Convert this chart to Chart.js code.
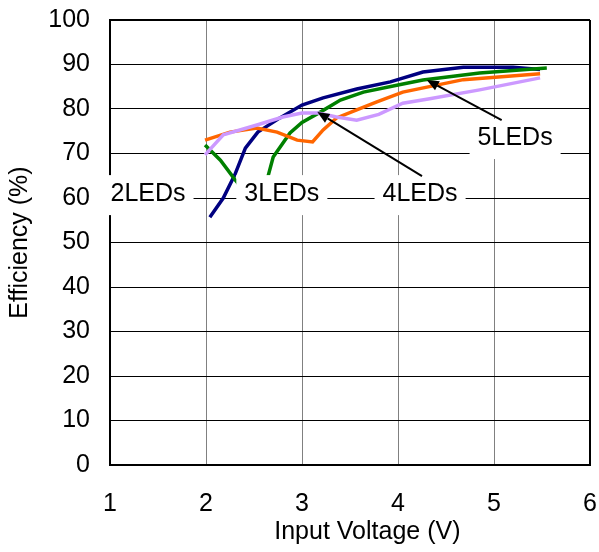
<!DOCTYPE html>
<html lang="en">
<head>
<meta charset="UTF-8">
<title>Efficiency vs Input Voltage</title>
<script src="https://cdn.jsdelivr.net/npm/chart.js"></script>
<style>
  html, body { margin: 0; padding: 0; background: #fff; }
  #wrap { width: 599px; height: 552px; }
</style>
</head>
<body>
<div id="wrap"><canvas id="effChart" width="599" height="552"></canvas></div>
<script>
// curve data: input voltage (V) and efficiency (%)
const navyV    = [2.04, 2.18, 2.30, 2.41, 2.54, 2.77, 3.00, 3.22, 3.57, 3.92, 4.26, 4.68, 5.20, 5.48];
const navyEff  = [55.7, 60.0, 65.2, 71.2, 74.8, 78.0, 80.9, 82.5, 84.5, 86.1, 88.3, 89.4, 89.4, 88.9];

const greenV   = [1.99, 2.15, 2.30, 2.42, 2.60, 2.65, 2.70, 2.875, 3.00, 3.19, 3.40, 3.64, 4.00, 4.26, 4.85, 5.55];
const greenEff = [71.9, 68.5, 64.2, 61.0, 61.0, 65.2, 69.2, 74.6, 77.0, 79.3, 82.0, 83.8, 85.4, 86.5, 88.1, 89.2];

const orangeV   = [1.99, 2.25, 2.53, 2.74, 2.95, 3.11, 3.22, 3.36, 3.57, 3.78, 4.05, 4.68, 5.48];
const orangeEff = [73.0, 74.8, 75.7, 74.8, 73.0, 72.6, 75.3, 78.0, 79.8, 81.6, 83.8, 86.6, 87.9];

const lilacV   = [1.99, 2.18, 2.53, 2.80, 3.00, 3.17, 3.36, 3.57, 3.80, 4.05, 4.33, 4.85, 5.48];
const lilacEff = [69.7, 74.2, 76.4, 78.2, 79.1, 79.1, 78.2, 77.5, 78.8, 81.3, 82.3, 84.3, 87.0];

const xTicks = [1, 2, 3, 4, 5, 6];
const yTicks = [0, 10, 20, 30, 40, 50, 60, 70, 80, 90, 100];

// text labels (centre, in data units) and arrows (tail -> tip)
const labelText = ['2LEDs', '3LEDs', '4LEDs', '5LEDs'];
const labelV    = [1.396, 2.79, 4.23, 5.22];
const labelEff  = [61.1, 61.1, 61.1, 73.7];
const arrowFrom = [[4.25, 64.9], [5.08, 77.5]];
const arrowTo   = [[3.16, 79.3], [4.30, 86.5]];

const FONT = 'Liberation Sans, Arial, sans-serif';

function pts(xs, ys) {
    return xs.map((v, i) => ({ x: v, y: ys[i] }));
}

function curve(xs, ys, color) {
    return {
        data: pts(xs, ys),
        borderColor: color,
        borderWidth: 3.5,
        pointRadius: 0,
        tension: 0,
        fill: false
    };
}

const labelsPlugin = {
    id: 'ledLabels',
    afterDraw(chart) {
        const ctx = chart.ctx;
        const xs = chart.scales.x, ys = chart.scales.y;
        ctx.save();
        ctx.font = '25px ' + FONT;
        ctx.textAlign = 'center';
        ctx.textBaseline = 'middle';
        labelText.forEach((t, i) => {
            const px = xs.getPixelForValue(labelV[i]);
            const py = ys.getPixelForValue(labelEff[i]);
            const w = ctx.measureText(t).width;
            ctx.fillStyle = '#fff';
            ctx.fillRect(px - w / 2 - 8, py - 18, w + 16, 40);
            ctx.fillStyle = '#000';
            ctx.fillText(t, px, py + 1);
        });
        // arrows
        ctx.strokeStyle = '#000';
        ctx.fillStyle = '#000';
        ctx.lineWidth = 2;
        arrowFrom.forEach((a, i) => {
            const x0 = xs.getPixelForValue(a[0]), y0 = ys.getPixelForValue(a[1]);
            const x1 = xs.getPixelForValue(arrowTo[i][0]), y1 = ys.getPixelForValue(arrowTo[i][1]);
            const ang = Math.atan2(y1 - y0, x1 - x0);
            const hl = 12, hw = 5;
            ctx.beginPath();
            ctx.moveTo(x0, y0);
            ctx.lineTo(x1 - hl * Math.cos(ang), y1 - hl * Math.sin(ang));
            ctx.stroke();
            ctx.beginPath();
            ctx.moveTo(x1, y1);
            ctx.lineTo(x1 - hl * Math.cos(ang) + hw * Math.sin(ang), y1 - hl * Math.sin(ang) - hw * Math.cos(ang));
            ctx.lineTo(x1 - hl * Math.cos(ang) - hw * Math.sin(ang), y1 - hl * Math.sin(ang) + hw * Math.cos(ang));
            ctx.closePath();
            ctx.fill();
        });
        ctx.restore();
    }
};

Chart.defaults.font.family = FONT;
Chart.defaults.font.size = 25;
Chart.defaults.color = '#000';

new Chart(document.getElementById('effChart'), {
    type: 'line',
    data: {
        datasets: [
            curve(lilacV, lilacEff, '#CC99FF'),
            curve(orangeV, orangeEff, '#FF6600'),
            curve(greenV, greenEff, '#008000'),
            curve(navyV, navyEff, '#000080')
        ]
    },
    options: {
        responsive: false,
        animation: false,
        layout: { padding: { left: 5, right: 9, top: 20, bottom: 5 } },
        plugins: {
            legend: { display: false },
            tooltip: { enabled: false }
        },
        scales: {
            x: {
                type: 'linear',
                min: 1,
                max: 6,
                afterBuildTicks: s => { s.ticks = xTicks.map(v => ({ value: v })); },
                afterFit: s => { s.height = 82; s.paddingLeft = 0; s.paddingRight = 0; },
                ticks: { padding: 24, maxRotation: 0 },
                grid: {
                    drawTicks: false,
                    color: c => (c.tick && c.tick.value === 6) ? '#000' : '#808080',
                    lineWidth: c => (c.tick && c.tick.value === 6) ? 2 : 1
                },
                border: { color: '#000', width: 2 },
                // leading spaces nudge the title right, like the original
                title: { display: true, text: '     Input Voltage (V)', padding: 0 }
            },
            y: {
                min: 0,
                max: 100,
                afterBuildTicks: s => { s.ticks = yTicks.map(v => ({ value: v })); },
                afterFit: s => { s.width = 105; s.paddingTop = 0; s.paddingBottom = 0; },
                ticks: { padding: 20 },
                grid: {
                    drawTicks: false,
                    color: '#000',
                    lineWidth: c => (c.tick && c.tick.value === 100) ? 2 : 1
                },
                border: { color: '#000', width: 2 },
                title: { display: true, text: 'Efficiency (%)', padding: 0 }
            }
        }
    },
    plugins: [labelsPlugin]
});
</script>
</body>
</html>
